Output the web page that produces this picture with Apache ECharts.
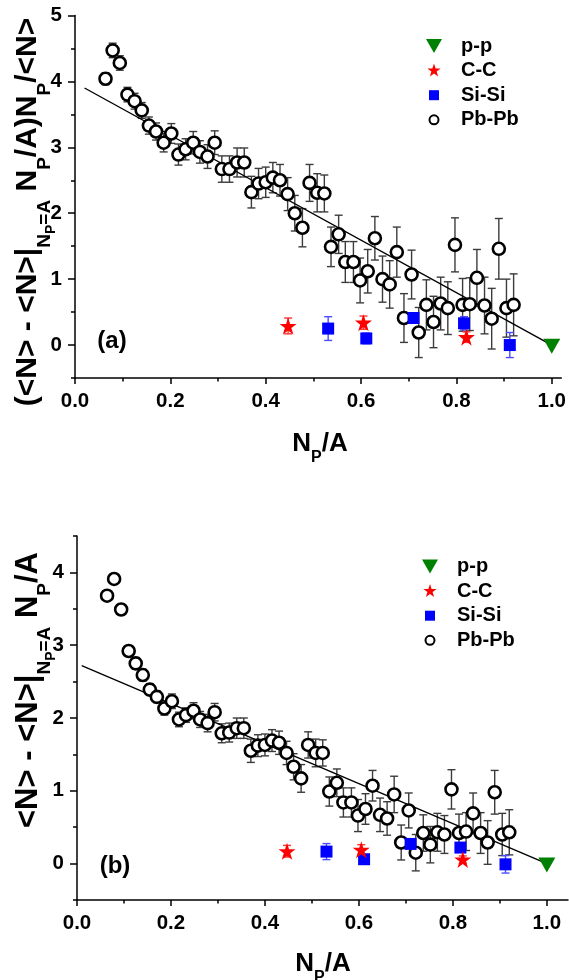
<!DOCTYPE html>
<html><head><meta charset="utf-8">
<script src="https://cdn.jsdelivr.net/npm/echarts@6/dist/echarts.min.js"></script>
<style>html,body{margin:0;padding:0;background:#fff}#c{width:569px;height:980px}</style>
</head><body><div id="c"></div>
<script>
// ---------- data ----------
const pbX = [0.064,0.079,0.094,0.110,0.125,0.140,0.155,0.170,0.186,0.202,0.217,0.232,0.248,0.262,0.278,0.293,0.308,0.324,0.340,0.355,0.370,0.385,0.400,0.415,0.430,0.446,0.461,0.477,0.492,0.508,0.523,0.537,0.553,0.567,0.584,0.598,0.614,0.629,0.645,0.660,0.675,0.690,0.706,0.721,0.737,0.752,0.767,0.782,0.797,0.813,0.828,0.843,0.859,0.874,0.889,0.905,0.920];
const pbTopY = [4.04,4.47,4.28,3.80,3.70,3.56,3.33,3.24,3.07,3.21,2.89,2.97,3.07,2.93,2.86,3.07,2.67,2.67,2.77,2.77,2.32,2.45,2.47,2.54,2.50,2.29,2.00,1.78,2.46,2.31,2.30,1.49,1.68,1.26,1.26,0.98,1.12,1.62,1.00,0.92,1.41,0.41,1.07,0.19,0.61,0.35,0.63,0.56,1.52,0.61,0.62,1.02,0.60,0.40,1.46,0.56,0.61];
const pbTopErr = [0.09,0.11,0.11,0.11,0.12,0.12,0.13,0.13,0.14,0.15,0.16,0.16,0.17,0.17,0.18,0.18,0.20,0.20,0.22,0.22,0.24,0.23,0.23,0.23,0.24,0.25,0.27,0.29,0.28,0.29,0.28,0.30,0.29,0.31,0.31,0.34,0.33,0.33,0.35,0.36,0.38,0.37,0.37,0.38,0.38,0.39,0.40,0.40,0.41,0.40,0.40,0.43,0.43,0.46,0.46,0.44,0.47];
const pbBotY = [3.68,3.91,3.49,2.92,2.75,2.59,2.39,2.29,2.13,2.23,1.98,2.04,2.10,1.98,1.93,2.08,1.79,1.80,1.86,1.86,1.55,1.62,1.63,1.69,1.66,1.52,1.33,1.17,1.63,1.52,1.52,0.99,1.11,0.84,0.84,0.66,0.75,1.07,0.67,0.62,0.95,0.29,0.73,0.15,0.42,0.26,0.43,0.40,1.02,0.42,0.44,0.69,0.42,0.29,0.98,0.40,0.43];
const pbBotErr = [0.06,0.07,0.07,0.07,0.08,0.08,0.08,0.08,0.09,0.10,0.10,0.10,0.11,0.11,0.12,0.12,0.13,0.13,0.14,0.14,0.16,0.15,0.15,0.15,0.16,0.16,0.18,0.19,0.18,0.19,0.18,0.20,0.19,0.20,0.20,0.22,0.21,0.21,0.23,0.23,0.25,0.24,0.24,0.25,0.25,0.25,0.26,0.26,0.27,0.26,0.26,0.28,0.28,0.30,0.30,0.29,0.31];

const ccX = [0.447, 0.605, 0.821];
const ccTopY = [0.29, 0.34, 0.12];
const ccTopErr = [0.12, 0.10, 0.08];
const ccBotY = [0.17, 0.19, 0.055];
const ccBotErr = [0.08, 0.07, 0.05];

const siX = [0.531, 0.611, 0.710, 0.816, 0.912];
const siTopY = [0.25, 0.10, 0.41, 0.33, 0.00];
const siTopErr = [0.18, 0.08, 0.08, 0.10, 0.19];
const siBotY = [0.165, 0.06, 0.27, 0.22, -0.01];
const siBotErr = [0.11, 0.06, 0.05, 0.06, 0.12];

const ppX = [1.0];
const ppTopY = [-0.02];
const ppBotY = [-0.02];

const fitTopX = [0.02, 1.0];
const fitTopY = [3.90, 0.0];
const fitBotX = [0.01, 1.0];
const fitBotY = [2.72, 0.0];

const xMajor = [0, 0.2, 0.4, 0.6, 0.8, 1.0];
const xMinor = [0.1, 0.3, 0.5, 0.7, 0.9];
const yTopMajor = [0, 1, 2, 3, 4, 5];
const yTopMinor = [-0.5, 0.5, 1.5, 2.5, 3.5, 4.5];
const yBotMajor = [0, 1, 2, 3, 4];
const yBotMinor = [-0.5, 0.5, 1.5, 2.5, 3.5, 4.5];

const legendNames = ['p-p', 'C-C', 'Si-Si', 'Pb-Pb'];

// ---------- styles ----------
const F = 'Liberation Sans, Arial, Helvetica, sans-serif';
const triPath = 'path://M0,0 L16,0 L8,14 Z';
const starPath = 'path://M50,0 L61.2,34.5 L97.6,34.5 L68.2,55.9 L79.4,90.5 L50,69.1 L20.6,90.5 L31.8,55.9 L2.4,34.5 L38.8,34.5 Z';
const sqLegend = 'path://M0,0 M2,2 L12,2 L12,12 L2,12 Z M14,14';
const circLegend = 'path://M0,0 M11.5,7 A4.5,4.5 0 1 1 2.5,7 A4.5,4.5 0 1 1 11.5,7 Z M14,14';
const starLegend = 'path://M0,0 M7,0 L8.6,4.9 L13.7,4.9 L9.6,7.9 L11.1,12.8 L7,9.8 L2.9,12.8 L4.4,7.9 L0.3,4.9 L5.4,4.9 Z M14,14';

const zip = (xs, ys, es) => xs.map((x, i) => es ? [x, ys[i], es[i]] : [x, ys[i]]);

function errRender(color, capHalf, lw) {
  return function (params, api) {
    const x = api.value(0), y = api.value(1), e = api.value(2);
    const t = api.coord([x, y + e]);
    const b = api.coord([x, y - e]);
    const st = { stroke: color, lineWidth: lw };
    return { type: 'group', children: [
      { type: 'line', shape: { x1: t[0], y1: t[1], x2: b[0], y2: b[1] }, style: st },
      { type: 'line', shape: { x1: t[0] - capHalf, y1: t[1], x2: t[0] + capHalf, y2: t[1] }, style: st },
      { type: 'line', shape: { x1: b[0] - capHalf, y1: b[1], x2: b[0] + capHalf, y2: b[1] }, style: st }
    ]};
  };
}

function panelSeries(xi, yi, pbY, pbE, ccY, ccE, siY, siE, ppY, fx, fy) {
  const common = { xAxisIndex: xi, yAxisIndex: yi, silent: true, animation: false };
  return [
    Object.assign({ type: 'custom', z: 1, renderItem: errRender('#3c3c3c', 4, 1.4), data: zip(pbX, pbY, pbE), encode: { x: 0, y: 1 } }, common),
    Object.assign({ type: 'custom', z: 1, renderItem: errRender('#4d4dff', 4, 1.4), data: zip(siX, siY, siE), encode: { x: 0, y: 1 } }, common),
    Object.assign({ type: 'custom', z: 1, renderItem: errRender('#ff3030', 4, 1.4), data: zip(ccX, ccY, ccE), encode: { x: 0, y: 1 } }, common),
    Object.assign({ type: 'line', z: 2, symbol: 'none', data: zip(fx, fy), lineStyle: { color: '#000', width: 1.4 } }, common),
    Object.assign({ name: 'Pb-Pb', type: 'scatter', z: 3, symbol: 'circle', symbolSize: 12, data: zip(pbX, pbY), itemStyle: { color: '#fff', borderColor: '#000', borderWidth: 2.6, opacity: 1 } }, common),
    Object.assign({ name: 'Si-Si', type: 'scatter', z: 4, symbol: 'rect', symbolSize: 12, data: zip(siX, siY), itemStyle: { color: '#0000ff', opacity: 1 } }, common),
    Object.assign({ name: 'C-C', type: 'scatter', z: 4, symbol: starPath, symbolSize: 17, data: zip(ccX, ccY), itemStyle: { color: '#ff0000', opacity: 1 } }, common),
    Object.assign({ name: 'p-p', type: 'scatter', z: 4, symbol: triPath, symbolSize: [17, 15], data: zip(ppX, ppY), itemStyle: { color: '#008000', opacity: 1 } }, common)
  ];
}

const axLine = { show: true, onZero: false, lineStyle: { color: '#000', width: 1.5 } };
const lblStyle = { color: '#000', fontFamily: F, fontWeight: 'bold', fontSize: 20.5 };

function xAxes(grid, max) {
  return [
    { gridIndex: grid, type: 'value', position: 'bottom', min: 0, max: max, axisLine: axLine,
      axisTick: { show: true, customValues: xMajor, length: 6, lineStyle: { color: '#000', width: 1.5 } },
      axisLabel: Object.assign({ customValues: xMajor, margin: 13, formatter: v => v.toFixed(1) }, lblStyle),
      splitLine: { show: false } },
    { gridIndex: grid, type: 'value', position: 'bottom', min: 0, max: max, axisLine: { show: false, onZero: false },
      axisTick: { show: true, customValues: xMinor, length: 3.5, lineStyle: { color: '#000', width: 1.5 } },
      axisLabel: { show: false }, splitLine: { show: false } }
  ];
}
function yAxes(grid, min, max, major, minor) {
  return [
    { gridIndex: grid, type: 'value', position: 'left', min: min, max: max, axisLine: axLine,
      axisTick: { show: true, customValues: major, length: 7, lineStyle: { color: '#000', width: 1.5 } },
      axisLabel: Object.assign({ customValues: major, margin: 13, formatter: v => String(v) }, lblStyle),
      splitLine: { show: false } },
    { gridIndex: grid, type: 'value', position: 'left', min: min, max: max, axisLine: { show: false, onZero: false },
      axisTick: { show: true, customValues: minor, length: 4, lineStyle: { color: '#000', width: 1.5 } },
      axisLabel: { show: false }, splitLine: { show: false } }
  ];
}

function legendFor(left, top) {
  return {
    orient: 'vertical', left: left, top: top, padding: 0, itemWidth: 44, itemHeight: 14, itemGap: 4.6,
    selectedMode: false, symbolKeepAspect: true,
    textStyle: { color: '#000', fontFamily: F, fontWeight: 'bold', fontSize: 20, lineHeight: 20 },
    data: [
      { name: 'p-p', icon: triPath, itemStyle: { color: '#008000', borderWidth: 0 } },
      { name: 'C-C', icon: starLegend, itemStyle: { color: '#ff0000', borderWidth: 0 } },
      { name: 'Si-Si', icon: sqLegend, itemStyle: { color: '#0000ff', borderWidth: 0 } },
      { name: 'Pb-Pb', icon: circLegend, itemStyle: { color: '#fff', borderColor: '#000', borderWidth: 2 } }
    ]
  };
}

function makeRich(fs) {
  return {
    m: { fontSize: fs, fontWeight: 'bold', fontFamily: F, lineHeight: fs + 2, verticalAlign: 'top', fill: '#000' },
    s: { fontSize: Math.round(fs * 0.62), fontWeight: 'bold', fontFamily: F, lineHeight: Math.round(fs * 0.62), padding: [Math.round(fs * 0.73), 0, 0, 0], verticalAlign: 'top', fill: '#000' },
    ss: { fontSize: Math.round(fs * 0.46), fontWeight: 'bold', fontFamily: F, lineHeight: Math.round(fs * 0.46), padding: [Math.round(fs * 1.04), 0, 0, 0], verticalAlign: 'top', fill: '#000' }
  };
}
function txt(x, y, text, fs, rot) {
  return { type: 'text', x: x, y: y, rotation: rot || 0, silent: true,
    style: { text: text, rich: makeRich(fs), align: 'center', verticalAlign: 'middle', fill: '#000', fontFamily: F, fontWeight: 'bold', fontSize: fs } };
}

const option = {
  backgroundColor: '#fff',
  animation: false,
  grid: [
    { left: 75, top: 15.5, width: 488, height: 362.5 },
    { left: 77, top: 536, width: 491, height: 364 }
  ],
  xAxis: xAxes(0, 1.02).concat(xAxes(1, 1.045)),
  yAxis: yAxes(0, -0.5, 5, yTopMajor, yTopMinor).concat(yAxes(1, -0.5, 4.5, yBotMajor, yBotMinor)),
  legend: [legendFor(426, 36), legendFor(422, 556.5)],
  series: panelSeries(0, 0, pbTopY, pbTopErr, ccTopY, ccTopErr, siTopY, siTopErr, ppTopY, fitTopX, fitTopY)
    .concat(panelSeries(2, 2, pbBotY, pbBotErr, ccBotY, ccBotErr, siBotY, siBotErr, ppBotY, fitBotX, fitBotY)),
  graphic: [
    txt(320, 445, '{m|N}{s|P}{m|/A}', 26),
    txt(323, 965, '{m|N}{s|P}{m|/A}', 26),
    txt(29, 212, '{m|(<N> - <N>|}{s|N}{ss|P}{s|=A}{m| N}{s|P}{m|/A)N}{s|P}{m|/<N>}', 30, Math.PI / 2),
    txt(29, 690, '{m|<N> - <N>|}{s|N}{ss|P}{s|=A}{m| N}{s|P}{m|/A}', 31, Math.PI / 2),
    { type: 'text', x: 112, y: 341, silent: true, style: { text: '(a)', align: 'center', verticalAlign: 'middle', fill: '#000', fontFamily: F, fontWeight: 'bold', fontSize: 24 } },
    { type: 'text', x: 115, y: 866, silent: true, style: { text: '(b)', align: 'center', verticalAlign: 'middle', fill: '#000', fontFamily: F, fontWeight: 'bold', fontSize: 24 } }
  ]
};

const chart = echarts.init(document.getElementById('c'), null, { renderer: 'canvas' });
chart.setOption(option);
</script>
</body></html>
